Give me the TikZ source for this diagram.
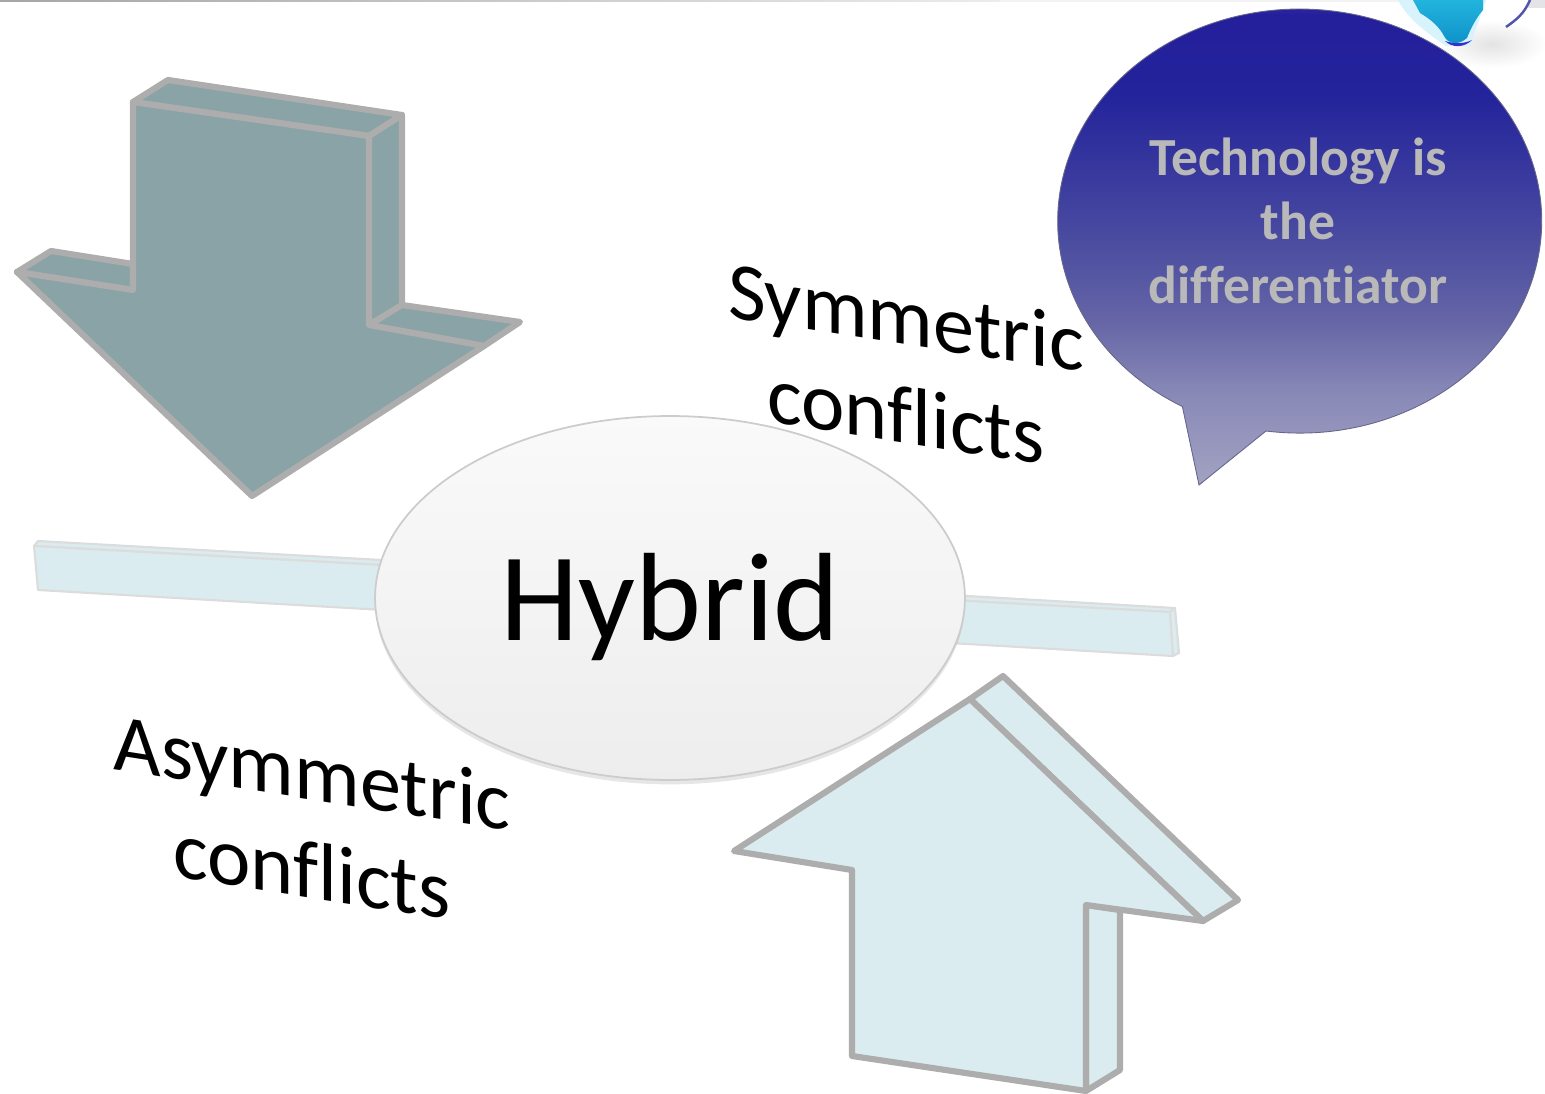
\documentclass[tikz,border=0pt]{standalone}
\usepackage{fontspec}
\setmainfont[Ligatures=NoCommon]{Carlito}
\usetikzlibrary{shadows,shapes.geometric}
\definecolor{edgegray}{HTML}{ADADAD}
\definecolor{barline}{HTML}{DCDCDC}
\definecolor{darkteal}{HTML}{8AA3A6}
\definecolor{paleblue}{HTML}{DAECEF}
\definecolor{globecyan}{HTML}{22B4DC}
\definecolor{globedeep}{HTML}{0E90C8}
\definecolor{bubblea}{HTML}{A2A2C2}
\definecolor{bubbleb}{HTML}{8A8AB8}
\definecolor{bubblec}{HTML}{6464A6}
\definecolor{bubbled}{HTML}{4A4CA0}
\definecolor{bubblee}{HTML}{38389E}
\definecolor{bubblef}{HTML}{23239B}
\definecolor{bubbleg}{HTML}{241F9B}
\definecolor{bubbleh}{HTML}{3A35A8}
\pgfdeclareverticalshading{bubbleshade}{100bp}{color(0bp)=(bubblea);
  color(25bp)=(bubblea);color(34bp)=(bubbleb);color(42bp)=(bubblec);
  color(50bp)=(bubbled);color(57bp)=(bubblee);color(65bp)=(bubblef);
  color(73bp)=(bubbleg);color(75bp)=(bubbleh);color(100bp)=(bubbleh)}
\tikzset{
  darkface/.style={fill=darkteal,draw=edgegray,line width=3.5pt,line join=round},
  lightface/.style={fill=paleblue,draw=edgegray,line width=3.5pt,line join=round},
  barface/.style={fill=paleblue,draw=barline,line width=1.2pt,line join=round},
  slanttext/.style={font=\fontsize{46.8}{56}\selectfont,align=center,yslant=-0.155,transform shape,inner sep=0pt},
}
\begin{document}
\begin{tikzpicture}[x=0.02cm,y=-0.02cm]
       \useasboundingbox (0,0) rectangle (1545,1094);
       \begin{scope}
        \clip (0,0) rectangle (1545,1094);
        \shade[left color=gray!70,right color=gray!15] (0,0) rectangle (1000,2);
        \fill[gray!10] (1000,0) rectangle (1400,2);
        \fill[blue!10!gray!20] (1528,0) rectangle (1545,8);
        \shade[inner color=gray!22,outer color=white] (1492,44) ellipse (55 and 24);
        \fill[cyan!15] (1398,0) .. controls (1408,20) and (1430,35) .. (1446,46) -- (1470,46) -- (1486,0) -- cycle;
        \shade[top color=globecyan,bottom color=globedeep] (1413,0) -- (1420,13) .. controls (1432,20) and (1440,28) .. (1444,36)
          .. controls (1448,44) and (1458,46) .. (1467,38) .. controls (1470,30) and (1476,18) .. (1483,10) -- (1483,0) -- cycle;
        \fill[blue!60!gray] (1445,41) .. controls (1452,48) and (1464,48) .. (1472,40) .. controls (1464,44) and (1454,44) .. (1445,41) -- cycle;
        \draw[blue!35!gray,line width=1.4pt] (1530,0) .. controls (1524,14) and (1516,20) .. (1506,27);
       \end{scope}

       \begin{scope}
        \draw[barface] (34,546) -- (38,541) -- (400,561) -- (400,566) -- cycle;
        \draw[barface] (34,546) -- (400,566) -- (400,611) -- (38,590) -- cycle;
        \draw[barface] (950,595) -- (1175,608) -- (1170,612) -- (950,600) -- cycle;
        \draw[barface] (950,600) -- (1170,612) -- (1173,656) -- (950,643) -- cycle;
        \draw[barface] (1170,612) -- (1175,608) -- (1179,653) -- (1173,656) -- cycle;
       \end{scope}

       \begin{scope}
        \draw[darkface] (133,102) -- (168,80) -- (402,115) -- (369,136) -- cycle;
        \draw[darkface] (369,136) -- (402,115) -- (402,305) -- (369,325) -- cycle;
        \draw[darkface] (369,325) -- (402,305) -- (520,322) -- (484,346) -- cycle;
        \draw[darkface] (17,272) -- (51,251) -- (133,264) -- (133,290) -- cycle;
        \draw[darkface] (133,102) -- (369,136) -- (369,325) -- (484,346) -- (252,496) -- (17,272) -- (133,290) -- cycle;
       \end{scope}

       \begin{scope}
        \draw[lightface] (970,699) -- (1003,676) -- (1238,900) -- (1203,921) -- cycle;
        \draw[lightface] (1086,905) -- (1120,910) -- (1120,1070) -- (1086,1091) -- cycle;
        \draw[lightface] (970,699) -- (734,851) -- (852,870) -- (852,1056) -- (1086,1091) -- (1086,905) -- (1203,921) -- cycle;
       \end{scope}

       \node[ellipse,draw=black!20,line width=1pt,top color=white!98!black,bottom color=black!7,
         minimum width=11.8cm,minimum height=7.28cm,inner sep=0pt,text height=62pt,text depth=14pt,
         drop shadow={shadow xshift=0pt,shadow yshift=-2.5pt,opacity=0.2},
         font=\fontsize{71.5}{86}\selectfont] (hybrid) at (670,598) {Hybrid};

       \node[slanttext] (symtext) at (906,366) {Symmetric\\conflicts};
       \node[slanttext] (asymtext) at (312,821) {Asymmetric\\conflicts};

       \shade[shading=bubbleshade,draw=blue!25!black!60,line width=0.5pt]
         (1266,431) arc[start angle=98,end angle=-241,x radius=242,y radius=212] -- (1199,485) -- cycle;
       \node[font=\fontsize{30.5}{36.3}\selectfont\bfseries,text=edgegray!85!white,align=center,inner sep=0pt]
         (bubbletext) at (1298,221) {Technology is\\the\\differentiator};
      \end{tikzpicture}
\end{document}
